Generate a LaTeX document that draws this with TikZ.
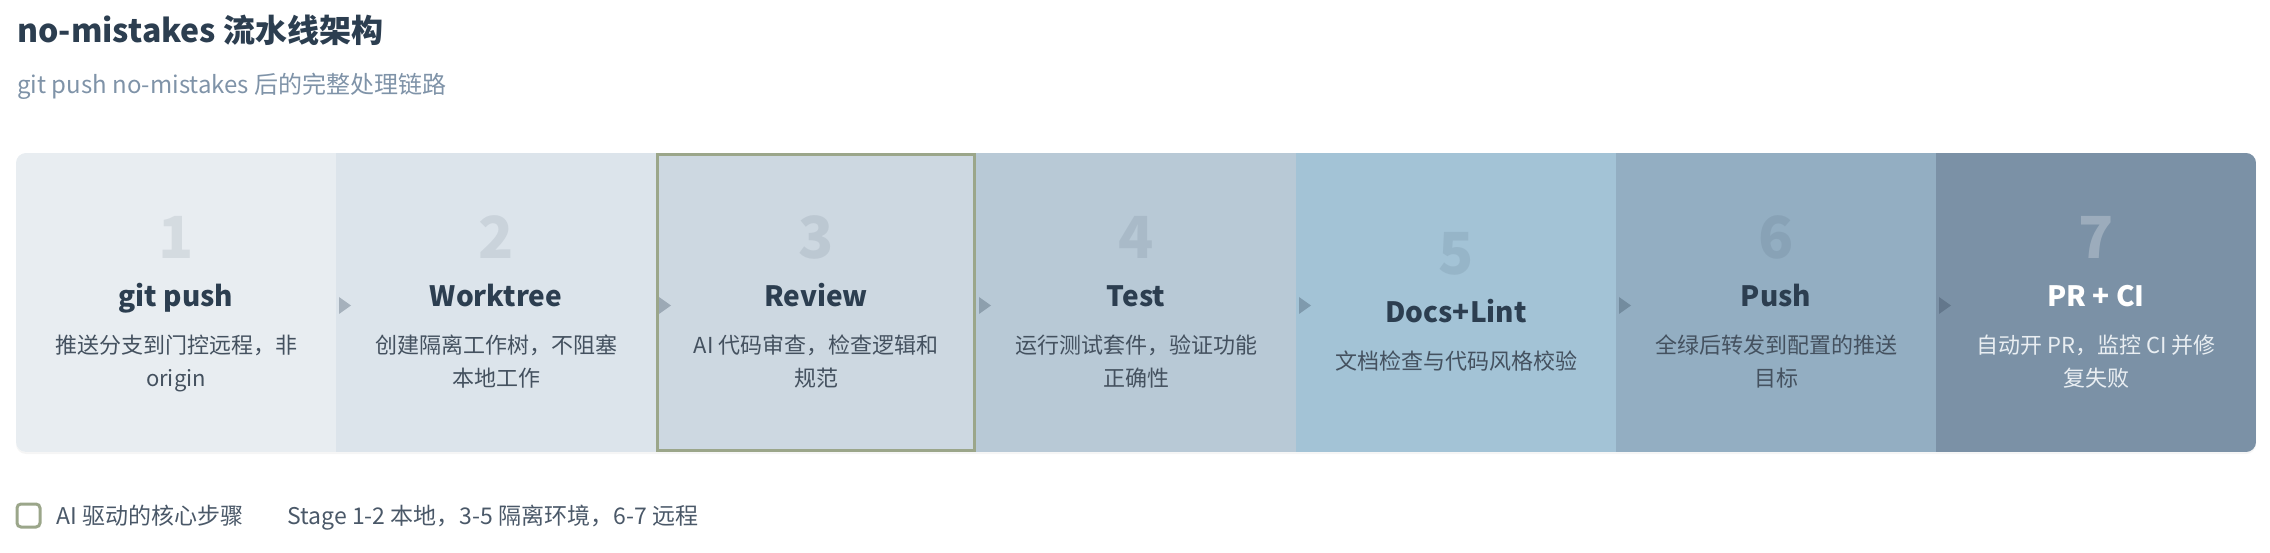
\documentclass[tikz,border=0pt]{standalone}
\usepackage{fontspec}
\setmainfont{Noto Sans CJK SC}
\usetikzlibrary{positioning,fit,backgrounds,shadows}

\definecolor{navy}{HTML}{2C3E50}
\definecolor{descgray}{HTML}{44515F}
\definecolor{subgray}{HTML}{7F93A8}
\definecolor{legendgray}{HTML}{4A5868}
\definecolor{aigreen}{HTML}{9BA68A}
\definecolor{st1}{HTML}{E8EDF1}
\definecolor{st2}{HTML}{DCE4EB}
\definecolor{st3}{HTML}{CDD8E1}
\definecolor{st4}{HTML}{B8C9D6}
\definecolor{st5}{HTML}{A3C3D6}
\definecolor{st6}{HTML}{93AEC2}
\definecolor{st7}{HTML}{7B91A6}
\definecolor{lastdesc}{HTML}{E9EEF2}

\begin{document}
\begin{tikzpicture}[
    stage/.style={minimum width=160pt, minimum height=149.5pt, inner sep=0pt, outer sep=0pt},
    stnum/.style={font=\fontsize{29}{29}\selectfont\bfseries, text=navy, text opacity=.1, anchor=base, inner sep=0pt},
    sttitle/.style={font=\fontsize{14}{16}\selectfont\bfseries, text=navy, anchor=base, inner sep=0pt},
    stdesc/.style={font=\fontsize{11}{16.5}\selectfont, text=descgray, align=center, anchor=north, inner sep=0pt},
    arr/.style={fill=navy, fill opacity=.3},
    aibox/.style={draw=aigreen, line width=1.5pt, inner sep=-.75pt},
    legend/.style={font=\fontsize{11.5}{13}\selectfont, text=legendgray, anchor=base west, inner sep=0pt},
]
\useasboundingbox (0,0) rectangle (1135pt,276pt);

% ---- Heading -------------------------------------------------------
\node[anchor=base west, inner sep=0pt, font=\fontsize{16}{19}\selectfont\bfseries, text=navy]
    (title) at (8.5pt,254.9pt) {no-mistakes 流水线架构};
\node[anchor=base west, inner sep=0pt, font=\fontsize{12}{14}\selectfont, text=subgray]
    (subtitle) at (8.5pt,229.4pt) {git push no-mistakes 后的完整处理链路};

% ---- Stage band ----------------------------------------------------
\fill[white, rounded corners=5pt, drop shadow={opacity=0.08,shadow xshift=0pt,shadow yshift=-1pt}]
    (8pt,50pt) rectangle ++(1120pt,149.5pt);
\begin{scope}
    \clip[rounded corners=5pt] (8pt,50pt) rectangle ++(1120pt,149.5pt);
    \node[stage, fill=st1, anchor=south west] (s1) at (8pt,50pt) {};
    \node[stage, fill=st2, right=0pt of s1] (s2) {};
    \node[stage, fill=st3, right=0pt of s2] (s3) {};
    \node[stage, fill=st4, right=0pt of s3] (s4) {};
    \node[stage, fill=st5, right=0pt of s4] (s5) {};
    \node[stage, fill=st6, right=0pt of s5] (s6) {};
    \node[stage, fill=st7, right=0pt of s6] (s7) {};
\end{scope}
\node[aibox, fit=(s3)] (review) {};

% ---- Step markers --------------------------------------------------
\fill[arr] ([shift={(1.5pt,2.75pt)}]s2.west) -- ++(6pt,-4.25pt) -- ++(-6pt,-4.25pt) -- cycle;
\fill[arr] ([shift={(1.5pt,2.75pt)}]s3.west) -- ++(6pt,-4.25pt) -- ++(-6pt,-4.25pt) -- cycle;
\fill[arr] ([shift={(1.5pt,2.75pt)}]s4.west) -- ++(6pt,-4.25pt) -- ++(-6pt,-4.25pt) -- cycle;
\fill[arr] ([shift={(1.5pt,2.75pt)}]s5.west) -- ++(6pt,-4.25pt) -- ++(-6pt,-4.25pt) -- cycle;
\fill[arr] ([shift={(1.5pt,2.75pt)}]s6.west) -- ++(6pt,-4.25pt) -- ++(-6pt,-4.25pt) -- cycle;
\fill[arr] ([shift={(1.5pt,2.75pt)}]s7.west) -- ++(6pt,-4.25pt) -- ++(-6pt,-4.25pt) -- cycle;

% ---- Stage texts ---------------------------------------------------
\node[stnum] (n1) at ([yshift=21.75pt]s1.center) {1};
\node[sttitle] (t1) at ([yshift=-2.25pt]s1.center) {git push};
\node[stdesc] (d1) at ([yshift=-16pt]s1.center) {推送分支到门控远程，非\\origin};

\node[stnum] (n2) at ([yshift=21.75pt]s2.center) {2};
\node[sttitle] (t2) at ([yshift=-2.25pt]s2.center) {Worktree};
\node[stdesc] (d2) at ([yshift=-16pt]s2.center) {创建隔离工作树，不阻塞\\本地工作};

\node[stnum] (n3) at ([yshift=21.75pt]s3.center) {3};
\node[sttitle] (t3) at ([yshift=-2.25pt]s3.center) {Review};
\node[stdesc] (d3) at ([yshift=-16pt]s3.center) {AI 代码审查，检查逻辑和\\规范};

\node[stnum] (n4) at ([yshift=21.75pt]s4.center) {4};
\node[sttitle] (t4) at ([yshift=-2.25pt]s4.center) {Test};
\node[stdesc] (d4) at ([yshift=-16pt]s4.center) {运行测试套件，验证功能\\正确性};

\node[stnum] (n5) at ([yshift=13.75pt]s5.center) {5};
\node[sttitle] (t5) at ([yshift=-10.25pt]s5.center) {Docs+Lint};
\node[stdesc] (d5) at ([yshift=-24pt]s5.center) {文档检查与代码风格校验};

\node[stnum] (n6) at ([yshift=21.75pt]s6.center) {6};
\node[sttitle] (t6) at ([yshift=-2.25pt]s6.center) {Push};
\node[stdesc] (d6) at ([yshift=-16pt]s6.center) {全绿后转发到配置的推送\\目标};

\node[stnum, text=white, text opacity=.25] (n7) at ([yshift=21.75pt]s7.center) {7};
\node[sttitle, text=white] (t7) at ([yshift=-2.25pt]s7.center) {PR + CI};
\node[stdesc, text=lastdesc] (d7) at ([yshift=-16pt]s7.center) {自动开 PR，监控 CI 并修\\复失败};

% ---- Legend --------------------------------------------------------
\node[draw=aigreen, fill=white, line width=1.5pt, rounded corners=2pt, minimum size=11.5pt, inner sep=0pt]
    (key) at (14.25pt,18.25pt) {};
\node[legend] (keytext) at (28pt,13.85pt) {AI 驱动的核心步骤};
\node[legend] (scope) at (143.5pt,13.85pt) {Stage 1-2 本地，3-5 隔离环境，6-7 远程};

\end{tikzpicture}
\end{document}
